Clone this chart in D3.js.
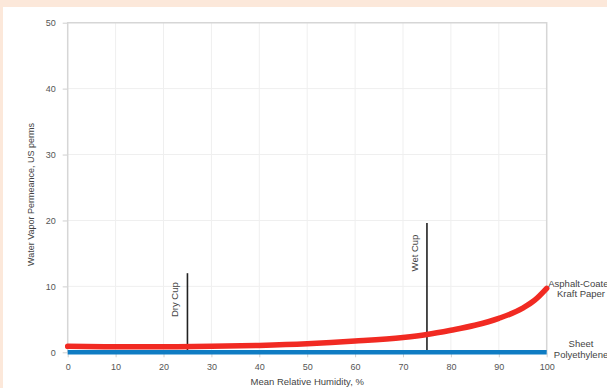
<!DOCTYPE html>
<html>
<head>
<meta charset="utf-8">
<script src="https://cdn.jsdelivr.net/npm/d3@7"></script>
<style>
  html, body { margin: 0; padding: 0; background: #fce8da; }
  svg { display: block; }
  text { font-family: "Liberation Sans", Arial, Helvetica, sans-serif; }
</style>
</head>
<body>
<svg id="chart" width="607" height="388"></svg>
<script>
// Relative humidity (%) and permeance (US perms) of asphalt-coated kraft paper
const humidity = [0, 10, 20, 30, 40, 50, 60, 70, 75, 80, 85, 90, 95, 97.5, 100];
const kraftPerms = [0.9, 0.85, 0.85, 0.9, 1.05, 1.3, 1.7, 2.25, 2.7, 3.35, 4.1, 5.15, 6.7, 7.9, 9.7];

// Sheet polyethylene stays essentially impermeable
const polyHumidity = [0, 100];
const polyPerms = [0, 0];

// Test-method markers
const cupNames = ["Dry Cup", "Wet Cup"];
const cupHumidity = [25, 75];
const cupHeight = [12, 19.6];

const xTicks = [0, 10, 20, 30, 40, 50, 60, 70, 80, 90, 100];
const yTicks = [0, 10, 20, 30, 40, 50];

const svg = d3.select("#chart");

// white card on the tinted page
svg.append("rect").attr("x", 3).attr("y", 7).attr("width", 604).attr("height", 381).attr("fill", "#ffffff");

const x = d3.scaleLinear().domain([0, 100]).range([67.7, 546.7]);
const y = d3.scaleLinear().domain([0, 50]).range([352.3, 22.7]);

const textCol = "#555";

// grid
svg.append("g").selectAll("line").data(xTicks.slice(1, -1)).join("line")
  .attr("x1", d => x(d)).attr("x2", d => x(d))
  .attr("y1", y(50)).attr("y2", y(0))
  .attr("stroke", "#efefef").attr("stroke-width", 1);
svg.append("g").selectAll("line").data(yTicks.slice(1, -1)).join("line")
  .attr("x1", x(0)).attr("x2", x(100))
  .attr("y1", d => y(d)).attr("y2", d => y(d))
  .attr("stroke", "#efefef").attr("stroke-width", 1);

// axes
const yAxis = svg.append("g").attr("transform", `translate(${x(0)},0)`)
  .call(d3.axisLeft(y).tickValues(yTicks).tickSize(5).tickPadding(7));
const xAxis = svg.append("g").attr("transform", `translate(0,${y(0)})`)
  .call(d3.axisBottom(x).tickValues(xTicks).tickSize(5).tickPadding(6));
[xAxis, yAxis].forEach(g => {
  g.select(".domain").remove();
  g.selectAll(".tick line").attr("stroke", "#cfcfcf");
  g.selectAll(".tick text").attr("fill", textCol).attr("font-size", 9)
    .attr("font-family", "'Liberation Sans', Arial, sans-serif");
});

// plot frame
svg.append("path")
  .attr("d", `M${x(0)},${y(0)}V${y(50)}H${x(100)}V${y(0)}`)
  .attr("fill", "none").attr("stroke", "#d6d6d6").attr("stroke-width", 1.5);

// cup markers
const cups = cupNames.map((n, i) => ({ name: n, h: cupHumidity[i], v: cupHeight[i] }));
svg.append("g").selectAll("line").data(cups).join("line")
  .attr("x1", d => x(d.h)).attr("x2", d => x(d.h))
  .attr("y1", d => y(d.v)).attr("y2", y(0))
  .attr("stroke", "#222").attr("stroke-width", 1.6);
svg.append("g").selectAll("text").data(cups).join("text")
  .attr("transform", (d, i) => `translate(${x(d.h) - 9},${y(d.v) + (i === 0 ? 9 : 11.5)}) rotate(-90)`)
  .attr("text-anchor", "end")
  .attr("font-size", 9.5).attr("fill", "#444")
  .text(d => d.name);

// series
const line = d3.line().x(d => x(d[0])).y(d => y(d[1]));
svg.append("path")
  .datum(polyHumidity.map((h, i) => [h, polyPerms[i]]))
  .attr("d", line)
  .attr("fill", "none").attr("stroke", "#0f7cc3").attr("stroke-width", 4.5);
svg.append("path")
  .datum(humidity.map((h, i) => [h, kraftPerms[i]]))
  .attr("d", line.curve(d3.curveMonotoneX))
  .attr("fill", "none").attr("stroke", "#f12a22").attr("stroke-width", 5.5)
  .attr("stroke-linecap", "round");

// series labels at the right end
const endLabels = [
  { lines: ["Asphalt-Coated", "Kraft Paper"], v: kraftPerms[kraftPerms.length - 1] },
  { lines: ["Sheet", "Polyethylene"], v: polyPerms[polyPerms.length - 1] }
];
const lab = svg.append("g").selectAll("text").data(endLabels).join("text")
  .attr("text-anchor", "middle").attr("font-size", 9.5).attr("fill", "#444");
lab.each(function (d, i) {
  const t = d3.select(this);
  const y0 = i === 0 ? y(d.v) - 1.5 : y(d.v) - 5;
  d.lines.forEach((s, k) => {
    t.append("tspan").attr("x", 581).attr("y", y0 + k * 10.3).text(s);
  });
});

// axis titles
svg.append("text")
  .attr("x", (x(0) + x(100)) / 2).attr("y", 384.5)
  .attr("text-anchor", "middle").attr("font-size", 9.5).attr("fill", "#444")
  .text("Mean Relative Humidity, %");
svg.append("text")
  .attr("transform", `translate(33.5,${(y(0) + y(50)) / 2 + 7}) rotate(-90)`)
  .attr("text-anchor", "middle").attr("font-size", 9).attr("fill", "#444")
  .text("Water Vapor Permeance, US perms");
</script>
</body>
</html>
